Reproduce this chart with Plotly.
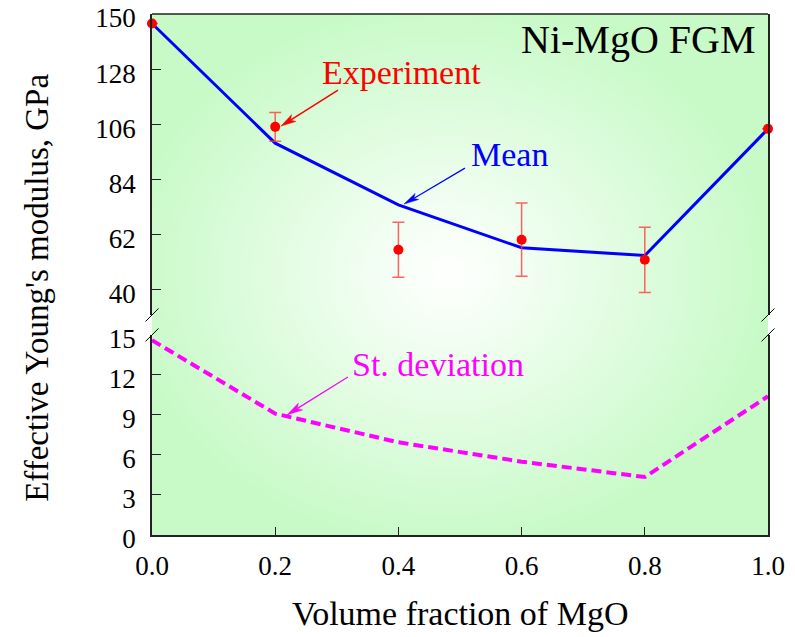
import base64
import math
import plotly.graph_objects as go

# ---------------- data ----------------
x_frac = [0.0, 0.2, 0.4, 0.6, 0.8, 1.0]
mean_E = [146.2, 98.5, 73.9, 56.8, 53.7, 104.2]
exp_E = [146.2, 105.0, 56.0, 60.0, 52.0, 104.2]
exp_err = [0.0, 5.7, 11.0, 14.6, 13.0, 0.0]
std_E = [14.6, 9.1, 6.95, 5.5, 4.35, 10.4]

x_ticks = [0.0, 0.2, 0.4, 0.6, 0.8, 1.0]
x_tick_labels = ["0.0", "0.2", "0.4", "0.6", "0.8", "1.0"]
upper_ticks = [40, 62, 84, 106, 128, 150]
lower_ticks = [0, 3, 6, 9, 12, 15]

FONT = "Liberation Serif, Times New Roman, serif"
AX = "#222222"

# radial gradient background
svg = (
    '<svg xmlns="http://www.w3.org/2000/svg" width="400" height="400" viewBox="0 0 100 100" '
    'preserveAspectRatio="none">'
    '<defs><radialGradient id="g" cx="0.48" cy="0.5" r="0.52" gradientUnits="objectBoundingBox">'
    '<stop offset="0" stop-color="#ffffff"/>'
    '<stop offset="1" stop-color="#c8fac8"/>'
    '</radialGradient></defs>'
    '<rect x="0" y="0" width="100" height="100" fill="url(#g)"/></svg>'
)
bg_src = "data:image/svg+xml;base64," + base64.b64encode(svg.encode()).decode()

fig = go.Figure()

fig.add_trace(go.Scatter(
    x=x_frac, y=mean_E, xaxis="x", yaxis="y2", mode="lines",
    line=dict(color="#0000ff", width=3), cliponaxis=False, hoverinfo="skip"))
fig.add_trace(go.Scatter(
    x=x_frac, y=exp_E, xaxis="x", yaxis="y2", mode="markers",
    marker=dict(color="#ff0000", size=10),
    error_y=dict(type="data", array=exp_err, visible=True,
                 color="rgba(255,60,60,0.8)", thickness=1.5, width=6),
    cliponaxis=False, hoverinfo="skip"))
fig.add_trace(go.Scatter(
    x=x_frac, y=std_E, xaxis="x", yaxis="y", mode="lines",
    line=dict(color="#ff00ff", width=4, dash="10px,5px"), cliponaxis=False,
    hoverinfo="skip"))

tickfont = dict(family=FONT, size=27, color="black")

fig.update_layout(
    width=795, height=637,
    margin=dict(l=152, r=27, t=14, b=102, autoexpand=False),
    paper_bgcolor="white",
    plot_bgcolor="rgba(0,0,0,0)",
    showlegend=False,
    font=dict(family=FONT, color="black"),
    xaxis=dict(range=[0, 1], tickvals=x_ticks, ticktext=x_tick_labels,
               ticks="inside", ticklen=8, tickwidth=1, tickcolor=AX,
               showline=True, linecolor=AX, linewidth=1.5, automargin=False,
               showgrid=False, zeroline=False, tickfont=tickfont,
               ticklabelstandoff=6, ticklabeloverflow="allow", anchor="y"),
    yaxis=dict(domain=[0, 0.384], range=[0, 15], tickvals=lower_ticks,
               ticks="inside", ticklen=9, tickwidth=1, tickcolor=AX,
               showline=True, mirror=True, linecolor=AX, linewidth=1.5,
               showgrid=False, zeroline=False, tickfont=tickfont, automargin=False,
               ticklabelstandoff=9, ticklabelshift=4, ticklabeloverflow="allow",
               anchor="x"),
    yaxis2=dict(domain=[0.4223, 1], range=[30, 150], tickvals=upper_ticks,
                ticks="inside", ticklen=9, tickwidth=1, tickcolor=AX,
                showline=True, mirror=True, linecolor=AX, linewidth=1.5,
                showgrid=False, zeroline=False, tickfont=tickfont, automargin=False,
                ticklabelstandoff=9, ticklabelshift=4, ticklabeloverflow="allow",
                anchor="x"),
    images=[dict(source=bg_src, xref="paper", yref="paper", x=0, y=1,
                 sizex=1, sizey=1, sizing="stretch", xanchor="left",
                 yanchor="top", layer="below")],
)

# frame top line and axis break marks
shapes = [dict(type="line", xref="paper", yref="paper", x0=0, x1=1, y0=1, y1=1,
               line=dict(color=AX, width=1.5))]
for xa in (0, 1):
    for ya in (0.4223, 0.384):
        shapes.append(dict(type="line", xref="paper", yref="paper",
                           xsizemode="pixel", ysizemode="pixel",
                           xanchor=xa, yanchor=ya,
                           x0=-6.5, x1=6.5, y0=-6.5, y1=6.5,
                           line=dict(color="black", width=1)))


def arrow(xa, ya, yref, tail_dx, tail_dy, color, lw, head_len, head_w):
    """Arrow pointing at (xa, ya); tail offset in pixels (dy positive = up)."""
    L = math.hypot(tail_dx, tail_dy)
    ux, uy = -tail_dx / L, -tail_dy / L   # unit vector tail -> head
    nx, ny = -uy, ux
    bx, by = -ux * head_len, -uy * head_len
    mx, my = -ux * head_len * 0.75, -uy * head_len * 0.75
    hw = head_w / 2
    common = dict(xref="x", yref=yref, xsizemode="pixel", ysizemode="pixel",
                  xanchor=xa, yanchor=ya)
    line_path = f"M {mx:.2f},{my:.2f} L {tail_dx:.2f},{tail_dy:.2f}"
    head_path = (f"M 0,0 L {bx + nx*hw:.2f},{by + ny*hw:.2f} "
                 f"L {mx:.2f},{my:.2f} L {bx - nx*hw:.2f},{by - ny*hw:.2f} Z")
    return [dict(type="path", path=line_path, line=dict(color=color, width=lw), **common),
            dict(type="path", path=head_path, fillcolor=color,
                 line=dict(color=color, width=0.5), **common)]


shapes += arrow(0.2094, 105.3, "y2", 57, 36, "#ff0000", 1.5, 15, 8)
shapes += arrow(0.409, 74.2, "y2", 61, 36, "#0000ff", 1.2, 15, 7)
shapes += arrow(0.219, 9.0, "y", 61, 38, "#ff00ff", 1.2, 16, 8)
fig.update_layout(shapes=shapes)

ann = []
ann.append(dict(text="Ni-MgO FGM", xref="paper", yref="paper", x=0.982, y=0.952,
                xanchor="right", yanchor="middle", showarrow=False,
                font=dict(family=FONT, size=40, color="black")))
ann.append(dict(text="Experiment", xref="paper", yref="paper", x=0.273, y=0.887,
                xanchor="left", yanchor="middle", showarrow=False,
                font=dict(family=FONT, size=34, color="#ff0000")))
ann.append(dict(text="Mean", xref="paper", yref="paper", x=0.515, y=0.731,
                xanchor="left", yanchor="middle", showarrow=False,
                font=dict(family=FONT, size=34, color="#0000ff")))
ann.append(dict(text="St. deviation", xref="paper", yref="paper", x=0.321, y=0.328,
                xanchor="left", yanchor="middle", showarrow=False,
                font=dict(family=FONT, size=34, color="#ff00ff")))
ann.append(dict(text="Volume fraction of MgO", xref="paper", yref="paper",
                x=0.5, y=-0.15, xanchor="center", yanchor="middle", showarrow=False,
                font=dict(family=FONT, size=34, color="black")))
ann.append(dict(text="Effective Young's modulus, GPa", xref="paper", yref="paper",
                x=-0.187, y=0.474, xanchor="center", yanchor="middle", textangle=-90,
                showarrow=False, font=dict(family=FONT, size=33, color="black")))
fig.update_layout(annotations=ann)

fig.write_html("out.html", config={"displayModeBar": False},
               post_script="document.body.style.margin='0';document.body.style.padding='0';")
